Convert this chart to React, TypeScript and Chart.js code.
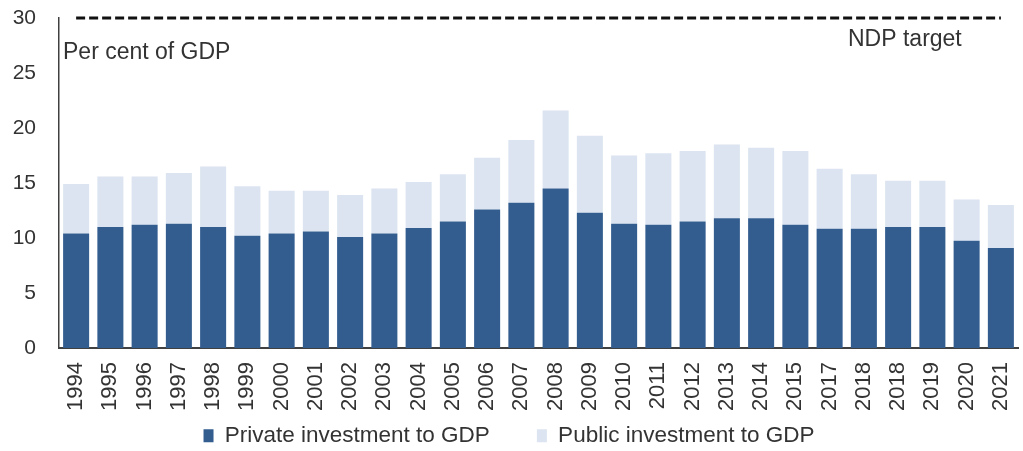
import React, { useEffect, useRef } from "react";
import { Chart, registerables } from "chart.js";

Chart.register(...registerables);

const years = [
  "1994", "1995", "1996", "1997", "1998", "1999", "2000", "2001", "2002", "2003",
  "2004", "2005", "2006", "2007", "2008", "2009", "2010", "2011", "2012", "2013",
  "2014", "2015", "2017", "2018", "2018", "2019", "2020", "2021",
];

const privateInvestment = [
  10.4, 11.0, 11.2, 11.3, 11.0, 10.2, 10.4, 10.6, 10.1, 10.4,
  10.9, 11.5, 12.6, 13.2, 14.5, 12.3, 11.3, 11.2, 11.5, 11.8,
  11.8, 11.2, 10.85, 10.85, 11.0, 11.0, 9.75, 9.1,
];

const publicInvestment = [
  4.5, 4.6, 4.4, 4.6, 5.5, 4.5, 3.9, 3.7, 3.8, 4.1,
  4.2, 4.3, 4.7, 5.7, 7.1, 7.0, 6.2, 6.5, 6.4, 6.7,
  6.4, 6.7, 5.45, 4.95, 4.2, 4.2, 3.75, 3.9,
];

const ndpTarget = years.map(() => 30);

const yTicks = [0, 5, 10, 15, 20, 25, 30];

const DARK = "#335d8f";
const LIGHT = "#dbe4f0";
const TEXT = "#333333";
const FONT = "'Liberation Sans', Arial, sans-serif";

const annotationPlugin = {
  id: "annotations",
  afterDraw(chart: any) {
    const { ctx, chartArea } = chart;
    ctx.save();
    ctx.fillStyle = TEXT;
    ctx.font = `23px ${FONT}`;
    ctx.textBaseline = "alphabetic";
    ctx.textAlign = "left";
    ctx.fillText("Per cent of GDP", chartArea.left + 4, chartArea.top + 41);
    ctx.fillText("NDP target", chartArea.right - 170, chartArea.top + 28);
    ctx.restore();
  },
};

export default function App() {
  const ref = useRef<HTMLCanvasElement | null>(null);

  useEffect(() => {
    document.body.style.margin = "0";
    const canvas = ref.current;
    if (!canvas) return;
    const baseGenerate = (Chart as any).defaults.plugins.legend.labels.generateLabels;
    const chart = new Chart(canvas, {
      type: "bar",
      data: {
        labels: years,
        datasets: [
          {
            type: "line",
            label: "NDP target",
            data: ndpTarget,
            borderColor: "#111111",
            borderWidth: 3,
            borderDash: [9, 4],
            pointRadius: 0,
            fill: false,
            clip: false,
            order: 0,
          } as any,
          {
            label: "Private investment to GDP",
            data: privateInvestment,
            backgroundColor: DARK,
            stack: "s",
            categoryPercentage: 1,
            barPercentage: 0.76,
            order: 1,
          },
          {
            label: "Public investment to GDP",
            data: publicInvestment,
            backgroundColor: LIGHT,
            stack: "s",
            categoryPercentage: 1,
            barPercentage: 0.76,
            order: 1,
          },
        ],
      },
      options: {
        responsive: false,
        animation: false,
        maintainAspectRatio: false,
        layout: { padding: { top: 18, right: 5, left: 0, bottom: -6 } },
        plugins: {
          tooltip: { enabled: false },
          legend: {
            position: "bottom",
            labels: {
              generateLabels: (c: any) => {
                const items = baseGenerate(c).filter(
                  (it: any) => it.text !== "NDP target"
                );
                return items.map((it: any, i: number) =>
                  i < items.length - 1 ? { ...it, text: it.text + "\u2003\u2003" } : it
                );
              },
              boxWidth: 10,
              boxHeight: 13,
              color: TEXT,
              padding: 2,
              font: { size: 22.5, family: FONT },
            },
          },
        },
        scales: {
          x: {
            stacked: true,
            afterFit: (scale: any) => {
              scale.height = 74.5;
              scale.paddingLeft = 0;
              scale.paddingRight = 0;
            },
            grid: { display: false, drawTicks: false },
            border: { display: true, color: "#404040", width: 2 },
            ticks: {
              color: TEXT,
              minRotation: 90,
              maxRotation: 90,
              autoSkip: false,
              padding: 14,
              font: { size: 22, family: FONT },
            },
          },
          y: {
            stacked: true,
            min: 0,
            max: 30,
            afterFit: (scale: any) => {
              scale.width = 59;
              scale.paddingTop = 0;
              scale.paddingBottom = 0;
            },
            afterBuildTicks: (scale: any) => {
              scale.ticks = yTicks.map((v) => ({ value: v }));
            },
            grid: { display: false, drawTicks: false },
            border: { display: true, color: "#404040", width: 1.5 },
            ticks: {
              color: TEXT,
              padding: 23,
              font: { size: 21, family: FONT },
            },
          },
        },
      },
      plugins: [annotationPlugin],
    } as any);
    return () => chart.destroy();
  }, []);

  return (
    <div style={{ width: 1023, height: 451 }}>
      <canvas ref={ref} width={1023} height={451} style={{ display: "block" }} />
    </div>
  );
}
